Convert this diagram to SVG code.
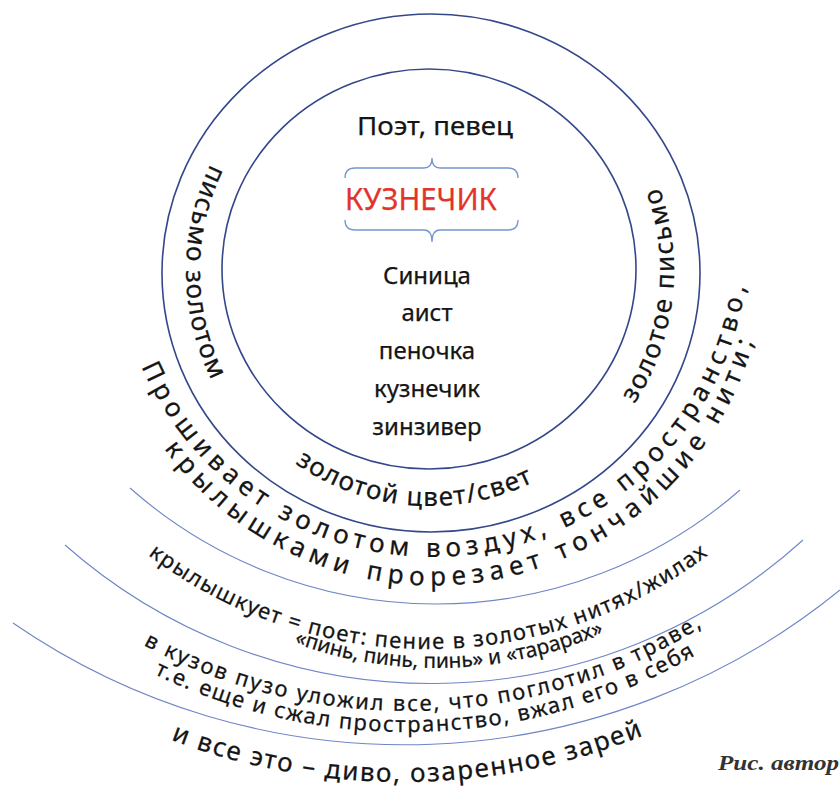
<svg xmlns="http://www.w3.org/2000/svg" xmlns:xlink="http://www.w3.org/1999/xlink" width="840" height="792" viewBox="0 0 840 792">
<style>
  .ring { fill: none; stroke: #34478a; stroke-width: 1.6; }
  .arc { fill: none; stroke: #6f86c6; stroke-width: 1.1; }
  .brace { fill: none; stroke: #7596d0; stroke-width: 1.3; }
  .t { font-family: "Noto Sans", "Open Sans", "DejaVu Sans", sans-serif; fill: #151515; stroke: #151515; stroke-width: 0.25; }
  .c { text-anchor: middle; }
  .red { fill: #e2342b; stroke: #e2342b; }
  .cap { font-family: "Liberation Serif", "DejaVu Serif", serif; font-weight: bold; font-style: italic; fill: #333; }
</style>
<defs>
  <path id="pA" d="M210.7,164 A244,244 0 0 0 211.6,379.9"/>
  <path id="pB" d="M634.6,403.9 A244,244 0 0 0 659.3,187.5"/>
  <path id="pC" d="M295.2,463.5 A235,235 0 0 0 533,482.2"/>
  <path id="p1" d="M141.3,366.4 A317,317 0 0 0 745.5,286.9"/>
  <path id="p2" d="M164,448.4 A332.5,332.5 0 0 0 753.4,341.8"/>
  <path id="pE" d="M148.1,555.1 A464,464 0 0 0 707.9,555.1"/>
  <path id="pF" d="M294,643 A418,418 0 0 0 604,633"/>
  <path id="pG" d="M143.2,645 A560,560 0 0 0 702.1,626.9"/>
  <path id="pH" d="M154.1,674.1 A581,581 0 0 0 695.3,655.4"/>
  <path id="pI" d="M170.7,739.8 A652,652 0 0 0 643.3,735.6"/>
</defs>

<g id="connectors">
  <ellipse class="ring" cx="431" cy="273" rx="269" ry="259"/>
  <ellipse class="ring" cx="429" cy="269" rx="207" ry="200"/>
  <path class="arc" d="M130,488 A462,462 0 0 0 740,490"/>
  <path class="arc" d="M65,545 A553.3,553.3 0 0 0 803,540"/>
  <path class="arc" d="M13,623 A690,690 0 0 0 840,590"/>
</g>

<g id="center">
  <text class="t c" x="435" y="135" font-size="26" textLength="156" lengthAdjust="spacingAndGlyphs">Поэт, певец</text>
  <path class="brace" d="M345,178 Q345,168 355,168 L424,168 Q432,168 432,158 Q432,168 440,168 L508,168 Q518,168 518,178"/>
  <text class="t red" x="345" y="210" font-size="30" textLength="152" lengthAdjust="spacingAndGlyphs">КУЗНЕЧИК</text>
  <path class="brace" d="M345,220 Q345,230 355,230 L424,230 Q432,230 432,242 Q432,230 440,230 L508,230 Q518,230 518,220"/>
</g>

<g id="birds" class="t c" font-size="24">
  <text x="427" y="284">Синица</text>
  <text x="427" y="321">аист</text>
  <text x="427" y="359">пеночка</text>
  <text x="427" y="397">кузнечик</text>
  <text x="427" y="435">зинзивер</text>
</g>

<g id="ring-texts" class="t" font-size="26">
  <text><textPath xlink:href="#pA" href="#pA" textLength="223.6" lengthAdjust="spacing">письмо золотом</textPath></text>
  <text><textPath xlink:href="#pB" href="#pB" textLength="225.7" lengthAdjust="spacing">золотое письмо</textPath></text>
  <text><textPath xlink:href="#pC" href="#pC" textLength="250.2" lengthAdjust="spacing">золотой цвет/свет</textPath></text>
</g>

<g id="outer-texts" class="t">
  <text font-size="26"><textPath xlink:href="#p1" href="#p1" textLength="818.8" lengthAdjust="spacing">Прошивает золотом воздух, все пространство,</textPath></text>
  <text font-size="26"><textPath xlink:href="#p2" href="#p2" textLength="745.7" lengthAdjust="spacing">крылышками прорезает тончайшие нити;</textPath></text>
  <text font-size="22"><textPath xlink:href="#pE" href="#pE" textLength="600.9" lengthAdjust="spacing">крылышкует = поет: пение в золотых нитях/жилах</textPath></text>
  <text font-size="21"><textPath xlink:href="#pF" href="#pF" textLength="317.7" lengthAdjust="spacing">«пинь, пинь, пинь» и «тарарах»</textPath></text>
  <text font-size="22"><textPath xlink:href="#pG" href="#pG" textLength="585.5" lengthAdjust="spacing">в кузов пузо уложил все, что поглотил в траве,</textPath></text>
  <text font-size="22"><textPath xlink:href="#pH" href="#pH" textLength="563.3" lengthAdjust="spacing">т.е. еще и сжал пространство, вжал его в себя</textPath></text>
  <text font-size="26"><textPath xlink:href="#pI" href="#pI" textLength="483.6" lengthAdjust="spacing">и все это – диво, озаренное зарей</textPath></text>
</g>

<g id="caption">
  <text class="cap" x="718" y="770" font-size="21" textLength="121" lengthAdjust="spacingAndGlyphs">Рис. автор</text>
</g>
</svg>
